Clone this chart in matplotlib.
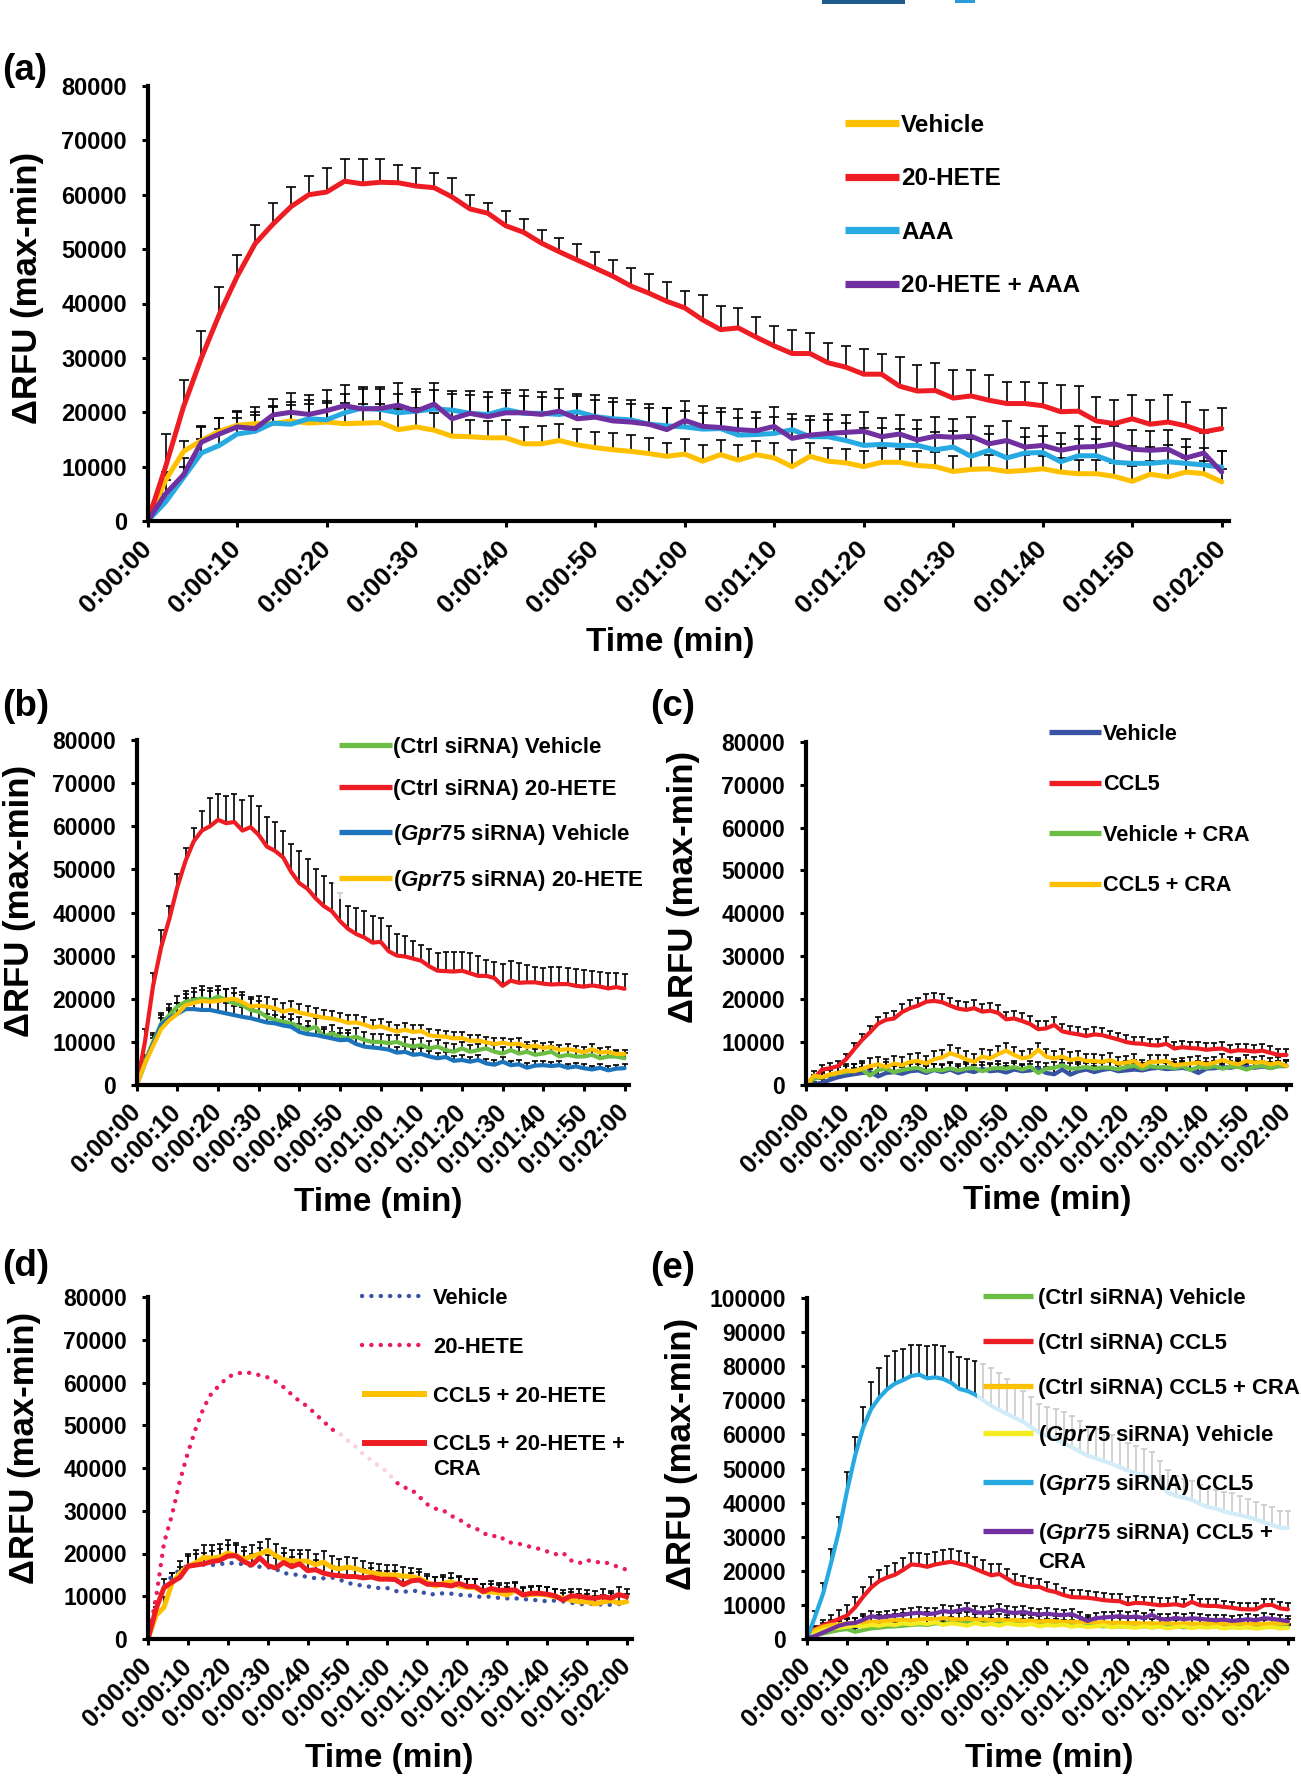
import numpy as np
import matplotlib
matplotlib.use("Agg")
import matplotlib.pyplot as plt
from matplotlib.patches import Rectangle

plt.rcParams["font.family"] = ["Liberation Sans", "DejaVu Sans"]
plt.rcParams["font.weight"] = "bold"
plt.rcParams["mathtext.fontset"] = "custom"
plt.rcParams["mathtext.it"] = "Liberation Sans:italic"
plt.rcParams["mathtext.rm"] = "Liberation Sans:bold"
plt.rcParams["mathtext.bf"] = "Liberation Sans:bold"

W, H, DPI = 1301, 1778, 100

GOLD = "#FFC000"
RED = "#EE1D23"
SKY = "#27AAE1"
PURPLE = "#7030A0"
GREEN = "#6DBE45"
BLUE = "#1C75BC"
NAVY = "#3953A4"
PINK = "#EC1C5B"
LEMON = "#F4EB20"

# ---- shared axes data -------------------------------------------------
TIME_S = [0, 2, 4, 6, 8, 10, 12, 14, 16, 18,
          20, 22, 24, 26, 28, 30, 32, 34, 36, 38,
          40, 42, 44, 46, 48, 50, 52, 54, 56, 58,
          60, 62, 64, 66, 68, 70, 72, 74, 76, 78,
          80, 82, 84, 86, 88, 90, 92, 94, 96, 98,
          100, 102, 104, 106, 108, 110, 112, 114, 116, 118,
          120]
X_TICK_SEC = [0, 10, 20, 30, 40, 50, 60, 70, 80, 90, 100, 110, 120]
X_TICK_LABELS = ["0:00:00", "0:00:10", "0:00:20", "0:00:30", "0:00:40", "0:00:50",
                 "0:01:00", "0:01:10", "0:01:20", "0:01:30", "0:01:40", "0:01:50",
                 "0:02:00"]
Y_TICKS_80K = [0, 10000, 20000, 30000, 40000, 50000, 60000, 70000, 80000]
Y_TICKS_100K = [0, 10000, 20000, 30000, 40000, 50000, 60000, 70000, 80000, 90000, 100000]

# ---- panel (a), values in thousands of RFU ---------------------------
A_VEH = [0, 7.5, 12.8, 14.8, 16.5, 17.6, 17.9, 17.9, 18.4, 18.0,
         18.2, 17.9, 18.0, 18.1, 16.8, 17.3, 16.7, 15.6, 15.5, 15.3,
         15.3, 14.2, 14.2, 14.8, 14.0, 13.5, 13.1, 12.8, 12.4, 11.9,
         12.3, 11.0, 12.2, 11.2, 12.2, 11.6, 10.0, 11.9, 11.0, 10.7,
         10.0, 10.8, 10.8, 10.2, 10.0, 9.1, 9.5, 9.6, 9.1, 9.3,
         9.6, 9.0, 8.7, 8.7, 8.2, 7.3, 8.6, 8.1, 9.0, 8.7,
         7.2]
A_VEH_ERR = [0, 1.5, 2.0, 2.5, 2.5, 2.5, 3.0, 3.0, 3.5, 3.5,
             3.5, 3.8, 3.5, 3.5, 3.8, 3.5, 3.2, 3.5, 3.0, 3.0,
             3.2, 3.0, 3.3, 3.0, 3.0, 2.8, 3.0, 3.0, 2.8, 2.5,
             2.8, 3.0, 2.7, 2.7, 2.5, 2.8, 3.0, 2.5, 2.5, 2.6,
             2.8, 2.6, 2.5, 2.6, 2.6, 2.8, 2.5, 2.5, 2.6, 2.8,
             2.4, 2.6, 2.5, 2.6, 2.5, 2.8, 2.5, 2.6, 2.5, 2.4,
             2.4]
A_HETE = [0, 10.0, 21.0, 30.0, 38.0, 45.0, 51.0, 54.6, 57.8, 60.0,
          60.5, 62.5, 62.0, 62.3, 62.2, 61.6, 61.3, 59.6, 57.4, 56.6,
          54.3, 53.1, 51.1, 49.5, 48.0, 46.5, 45.0, 43.2, 41.9, 40.4,
          39.2, 37.0, 35.2, 35.5, 33.8, 32.2, 30.8, 30.8, 29.1, 28.3,
          27.0, 27.0, 24.8, 23.9, 24.0, 22.6, 23.0, 22.2, 21.6, 21.6,
          21.2, 20.1, 20.2, 18.4, 17.9, 18.8, 17.8, 18.2, 17.5, 16.4,
          17.0]
A_HETE_ERR = [0, 6.0, 5.0, 5.0, 5.0, 4.0, 3.5, 3.9, 3.7, 3.5,
              4.5, 4.0, 4.5, 4.2, 3.3, 3.4, 2.7, 3.4, 2.6, 1.9,
              2.7, 2.4, 2.4, 2.5, 3.0, 3.0, 3.0, 3.3, 3.6, 3.6,
              3.1, 4.5, 4.3, 3.7, 3.7, 3.6, 4.3, 3.7, 3.7, 3.9,
              4.7, 3.8, 5.4, 4.7, 5.0, 5.2, 4.7, 4.6, 4.0, 4.0,
              4.1, 4.9, 4.6, 4.4, 4.4, 4.3, 4.4, 4.9, 4.4, 4.0,
              3.8]
A_AAA = [0, 3.5, 8.0, 12.5, 13.9, 16.0, 16.5, 18.0, 17.8, 18.8,
         18.6, 19.9, 20.8, 20.5, 19.9, 20.2, 20.6, 20.4, 19.8, 19.6,
         20.5, 19.8, 19.8, 19.6, 20.1, 19.2, 18.8, 18.6, 17.8, 17.5,
         17.3, 16.9, 17.0, 15.8, 15.9, 16.1, 16.8, 15.5, 15.5, 14.8,
         13.9, 14.1, 13.9, 13.9, 13.1, 13.6, 11.9, 13.0, 11.6, 12.5,
         12.6, 10.9, 12.0, 12.0, 10.8, 10.6, 10.6, 10.9, 10.6, 10.3,
         9.9]
A_AAA_ERR = [0, 1.5, 2.0, 2.5, 3.0, 3.0, 3.0, 3.2, 3.5, 3.5,
             3.5, 3.5, 3.5, 3.8, 3.5, 3.5, 3.5, 3.5, 3.3, 3.2,
             3.0, 3.2, 3.0, 3.0, 2.8, 3.0, 3.0, 3.0, 3.0, 3.2,
             3.0, 3.0, 3.0, 3.2, 3.0, 3.0, 2.8, 3.0, 3.0, 3.2,
             3.2, 3.0, 3.0, 3.0, 3.2, 3.0, 3.2, 3.0, 3.2, 3.0,
             3.0, 3.2, 3.0, 3.0, 3.2, 3.2, 3.0, 3.0, 3.0, 3.2,
             3.0]
A_COMBO = [0, 5.0, 8.5, 14.5, 16.0, 17.3, 17.0, 19.5, 20.0, 19.6,
           20.3, 21.2, 20.6, 20.7, 21.3, 20.2, 21.5, 18.8, 19.8, 19.2,
           19.9, 19.9, 19.6, 20.2, 18.8, 19.1, 18.4, 18.2, 17.8, 16.8,
           18.5, 17.4, 17.2, 16.8, 16.6, 17.4, 15.2, 15.8, 16.1, 16.3,
           16.5, 15.5, 16.0, 14.9, 15.6, 15.4, 15.6, 14.2, 14.8, 13.6,
           13.9, 13.0, 13.6, 13.7, 14.2, 13.2, 13.0, 13.2, 11.6, 12.5,
           9.0]
A_COMBO_ERR = [0, 2.5, 3.0, 3.0, 3.0, 3.0, 3.0, 3.0, 3.5, 3.5,
               3.8, 3.8, 4.0, 4.0, 4.0, 4.0, 3.8, 4.5, 4.2, 4.5,
               4.2, 4.2, 4.2, 4.0, 4.5, 4.0, 4.2, 4.0, 3.8, 4.0,
               3.5, 3.8, 3.6, 3.8, 3.5, 3.6, 3.6, 3.5, 3.6, 3.2,
               3.6, 3.5, 3.5, 3.6, 3.5, 3.4, 3.5, 3.2, 3.6, 3.5,
               3.6, 3.2, 3.8, 3.5, 3.2, 3.5, 3.5, 3.6, 3.5, 3.6,
               3.8]

# ---- panel (b) ---------------------------------------------------------
B_CTRL_VEH = [0, 5.5, 10.0, 14.3, 16.2, 18.2, 19.3, 19.7, 20.1, 19.7,
              20.5, 19.7, 18.9, 18.5, 17.4, 17.0, 15.8, 15.1, 14.7, 14.3,
              13.5, 12.8, 13.5, 11.2, 12.0, 11.2, 10.8, 11.2, 10.4, 10.0,
              10.0, 9.7, 10.0, 9.3, 8.9, 9.3, 8.5, 8.9, 8.1, 7.7,
              8.5, 7.7, 8.1, 8.5, 7.7, 7.3, 8.1, 7.3, 7.7, 7.0,
              7.3, 7.7, 6.6, 7.0, 6.6, 6.6, 7.0, 6.2, 6.6, 6.6,
              6.2]
B_CTRL_VEH_ERR = [0, 1.5, 2.0, 2.5, 2.5, 2.5, 2.5, 2.8, 2.8, 2.8,
                  2.5, 2.6, 2.5, 2.4, 2.5, 2.4, 2.3, 2.4, 2.2, 2.2,
                  2.2, 2.1, 2.0, 2.2, 2.0, 2.0, 1.9, 2.0, 1.9, 1.8,
                  1.8, 1.8, 1.7, 1.8, 1.7, 1.6, 1.7, 1.6, 1.6, 1.7,
                  1.5, 1.6, 1.5, 1.5, 1.6, 1.5, 1.4, 1.5, 1.5, 1.4,
                  1.4, 1.3, 1.5, 1.4, 1.4, 1.3, 1.4, 1.4, 1.3, 1.3,
                  1.3]
B_CTRL_HETE = [0, 10.0, 23.0, 32.0, 38.5, 46.0, 52.0, 56.5, 59.0, 60.0,
               61.5, 60.7, 61.0, 59.0, 59.8, 58.0, 55.3, 54.3, 52.8, 49.4,
               46.8, 45.5, 43.3, 41.5, 40.3, 38.0, 36.2, 35.0, 34.2, 33.0,
               33.2, 31.0, 30.0, 29.8, 29.3, 28.8, 27.5, 26.5, 26.4, 26.3,
               26.5, 25.9, 25.3, 25.3, 24.8, 23.0, 24.2, 23.7, 23.8, 23.8,
               23.5, 23.3, 23.4, 23.4, 23.0, 22.8, 23.1, 22.8, 22.4, 22.7,
               22.3]
B_CTRL_HETE_ERR = [0, 3.0, 3.0, 4.0, 3.0, 3.0, 3.0, 3.0, 4.5, 6.5,
                   6.0, 6.3, 6.5, 7.0, 7.2, 6.7, 6.8, 6.7, 6.2, 6.6,
                   7.5, 7.0, 6.7, 7.0, 6.5, 6.5, 5.3, 6.0, 6.2, 6.2,
                   5.5, 5.8, 5.0, 4.7, 4.2, 3.7, 4.0, 4.0, 4.4, 4.6,
                   4.3, 4.6, 4.5, 3.7, 3.7, 5.0, 4.6, 4.6, 4.0, 3.5,
                   3.6, 4.0, 3.9, 3.7, 3.8, 3.8, 3.3, 3.4, 3.6, 3.2,
                   3.4]
B_GPR_VEH = [0, 5.0, 9.5, 14.0, 15.5, 16.5, 17.6, 17.6, 17.4, 17.4,
             17.0, 16.6, 16.2, 15.8, 15.5, 15.0, 14.5, 14.3, 13.8, 13.5,
             12.3, 11.8, 11.6, 11.2, 10.8, 10.4, 10.5, 9.5, 8.9, 8.7,
             8.5, 8.2, 7.5, 7.7, 7.0, 7.2, 6.6, 6.2, 6.5, 5.6,
             5.8, 5.4, 5.8, 5.0, 4.7, 5.4, 4.6, 4.8, 4.0, 4.5,
             4.6, 4.4, 4.6, 4.0, 4.3, 3.9, 3.6, 4.0, 3.4, 3.8,
             3.9]
B_GPR_VEH_ERR = [0, 1.5, 2.0, 2.2, 2.4, 2.5, 2.5, 2.5, 2.4, 2.4,
                 2.3, 2.3, 2.2, 2.2, 2.1, 2.0, 2.0, 2.0, 1.9, 1.9,
                 1.8, 1.8, 1.7, 1.7, 1.6, 1.6, 1.6, 1.5, 1.5, 1.5,
                 1.4, 1.4, 1.4, 1.3, 1.3, 1.3, 1.2, 1.2, 1.2, 1.2,
                 1.1, 1.1, 1.1, 1.1, 1.0, 1.0, 1.0, 1.0, 1.0, 1.0,
                 1.0, 0.9, 0.9, 0.9, 0.9, 0.9, 0.9, 0.9, 0.9, 0.9,
                 0.9]
B_GPR_HETE = [0, 5.0, 9.0, 13.0, 15.0, 16.5, 18.5, 19.0, 19.5, 19.3,
              19.5, 19.8, 20.0, 19.2, 18.2, 18.4, 18.2, 17.8, 17.0, 17.5,
              16.8, 16.4, 16.0, 15.6, 15.4, 15.0, 14.4, 14.5, 14.0, 13.3,
              13.6, 13.0, 12.4, 12.8, 12.3, 12.5, 11.5, 11.3, 11.2, 10.8,
              10.9, 10.2, 10.3, 9.9, 9.5, 9.8, 9.4, 9.6, 8.8, 9.1,
              8.6, 8.8, 8.1, 8.3, 8.0, 7.6, 8.3, 7.5, 7.7, 7.2,
              7.2]
B_GPR_HETE_ERR = [0, 1.5, 2.0, 2.5, 2.5, 2.5, 2.6, 2.6, 2.5, 2.5,
                  2.5, 2.4, 2.4, 2.3, 2.3, 2.2, 2.2, 2.1, 2.1, 2.0,
                  2.0, 2.0, 1.9, 1.9, 1.8, 1.8, 1.8, 1.7, 1.7, 1.7,
                  1.6, 1.6, 1.6, 1.5, 1.5, 1.5, 1.5, 1.4, 1.4, 1.4,
                  1.4, 1.3, 1.3, 1.3, 1.3, 1.2, 1.2, 1.2, 1.2, 1.2,
                  1.2, 1.1, 1.1, 1.1, 1.1, 1.1, 1.1, 1.1, 1.0, 1.0,
                  1.0]

# ---- panel (c) ---------------------------------------------------------
C_VEH = [0, 0.2, 0.5, 1.2, 1.8, 2.2, 2.5, 2.8, 3.0, 2.0,
         2.8, 3.0, 2.6, 3.2, 3.4, 2.8, 3.5, 3.0, 3.6, 2.8,
         3.4, 3.0, 3.8, 3.2, 3.4, 2.9, 3.6, 3.2, 3.4, 3.8,
         2.8, 2.5, 3.6, 2.4, 3.2, 3.6, 3.0, 3.5, 3.8, 3.2,
         3.4, 3.6, 3.4, 3.8, 4.0, 3.7, 3.8, 4.0, 3.6, 2.8,
         3.8, 3.9, 4.2, 4.0, 4.4, 4.2, 4.0, 4.3, 4.0, 4.4,
         4.4]
C_VEH_ERR = [0, 0.5, 0.8, 1.0, 1.2, 1.3, 1.4, 1.5, 1.5, 1.5,
             1.6, 1.5, 1.6, 1.6, 1.5, 1.6, 1.5, 1.6, 1.5, 1.6,
             1.5, 1.6, 1.5, 1.6, 1.5, 1.6, 1.5, 1.5, 1.6, 1.5,
             1.5, 1.6, 1.5, 1.5, 1.6, 1.5, 1.5, 1.6, 1.5, 1.5,
             1.4, 1.5, 1.4, 1.5, 1.4, 1.4, 1.5, 1.4, 1.4, 1.4,
             1.4, 1.3, 1.4, 1.3, 1.4, 1.3, 1.3, 1.4, 1.3, 1.3,
             1.3]
C_CCL5 = [0, 1.5, 3.6, 3.9, 4.4, 6.0, 8.3, 10.5, 12.3, 14.3,
          15.2, 15.5, 17.0, 17.9, 18.5, 19.4, 19.6, 19.3, 18.5, 17.8,
          17.5, 17.9, 17.1, 17.3, 16.8, 15.3, 15.5, 14.9, 14.2, 13.0,
          13.2, 14.0, 12.5, 12.1, 11.8, 11.4, 11.8, 11.6, 11.1, 10.6,
          10.0, 9.7, 9.6, 9.3, 9.2, 9.6, 8.5, 8.8, 8.6, 8.5,
          8.2, 8.4, 8.5, 7.8, 8.1, 8.0, 7.8, 8.0, 7.5, 7.0,
          7.0]
C_CCL5_ERR = [0, 0.8, 1.0, 1.2, 1.2, 1.3, 1.5, 1.5, 1.5, 1.6,
              1.6, 1.7, 1.8, 1.8, 1.8, 1.8, 1.8, 1.9, 1.8, 1.8,
              1.8, 1.8, 1.8, 1.8, 1.8, 1.8, 1.8, 1.8, 1.8, 1.8,
              1.8, 1.8, 1.7, 1.7, 1.7, 1.7, 1.7, 1.7, 1.6, 1.6,
              1.6, 1.6, 1.6, 1.5, 1.5, 1.6, 1.5, 1.5, 1.5, 1.5,
              1.5, 1.5, 1.5, 1.5, 1.5, 1.5, 1.5, 1.5, 1.5, 1.5,
              1.5]
C_VEH_CRA = [0, 1.5, 1.8, 2.3, 2.8, 3.0, 3.4, 3.6, 2.2, 3.5,
             3.8, 3.0, 3.5, 3.8, 4.0, 3.2, 3.6, 3.4, 3.9, 3.4,
             3.8, 4.0, 3.2, 3.8, 4.0, 3.8, 4.2, 3.6, 4.3, 2.8,
             3.8, 4.0, 4.6, 3.8, 3.9, 4.2, 3.8, 4.1, 4.0, 3.7,
             4.2, 4.5, 3.8, 4.4, 4.1, 4.2, 3.9, 4.4, 3.5, 4.2,
             4.0, 4.4, 3.8, 4.3, 4.2, 3.6, 4.2, 4.5, 3.9, 4.4,
             4.6]
C_VEH_CRA_ERR = [0, 0.8, 1.0, 1.2, 1.3, 1.4, 1.4, 1.5, 1.5, 1.5,
                 1.5, 1.4, 1.5, 1.5, 1.4, 1.5, 1.4, 1.5, 1.5, 1.4,
                 1.5, 1.4, 1.5, 1.4, 1.5, 1.4, 1.5, 1.4, 1.4, 1.5,
                 1.4, 1.4, 1.5, 1.4, 1.4, 1.3, 1.4, 1.4, 1.3, 1.4,
                 1.3, 1.4, 1.3, 1.3, 1.4, 1.3, 1.3, 1.3, 1.4, 1.3,
                 1.3, 1.3, 1.2, 1.3, 1.3, 1.2, 1.3, 1.2, 1.3, 1.2,
                 1.2]
C_CCL5_CRA = [0, 2.2, 1.8, 2.5, 2.8, 3.4, 3.2, 3.8, 4.4, 4.8,
              4.2, 5.0, 4.6, 5.4, 5.6, 5.0, 6.0, 6.4, 7.4, 6.8,
              6.0, 5.4, 6.6, 6.2, 7.2, 8.0, 7.0, 6.2, 6.6, 8.2,
              6.6, 6.2, 6.6, 5.8, 6.2, 5.6, 5.6, 5.4, 5.8, 5.0,
              5.2, 5.6, 4.4, 5.4, 5.4, 5.6, 4.6, 4.8, 5.0, 5.2,
              4.8, 5.2, 5.8, 5.2, 4.8, 5.6, 5.2, 5.4, 4.8, 5.2,
              4.4]
C_CCL5_CRA_ERR = [0, 1.0, 1.2, 1.4, 1.5, 1.6, 1.6, 1.7, 1.8, 1.8,
                  1.8, 1.8, 1.9, 1.8, 1.9, 1.8, 1.9, 1.8, 1.9, 1.8,
                  1.9, 1.8, 1.8, 1.9, 1.8, 1.8, 1.9, 1.8, 1.8, 1.7,
                  1.8, 1.7, 1.7, 1.8, 1.7, 1.7, 1.6, 1.7, 1.6, 1.6,
                  1.6, 1.6, 1.5, 1.6, 1.5, 1.5, 1.5, 1.5, 1.5, 1.5,
                  1.5, 1.4, 1.5, 1.4, 1.5, 1.4, 1.4, 1.4, 1.4, 1.4,
                  1.4]

# ---- panel (d) ---------------------------------------------------------
D_VEH = [0, 7.5, 12.3, 14.7, 16.2, 17.2, 17.5, 17.4, 17.3, 17.5,
         17.8, 17.7, 17.5, 17.1, 16.9, 16.8, 16.4, 15.4, 15.2, 14.9,
         14.5, 14.2, 14.2, 14.4, 13.9, 13.1, 12.8, 12.4, 12.2, 11.9,
         11.9, 11.2, 11.1, 11.1, 11.4, 10.4, 10.5, 10.7, 10.6, 10.3,
         10.3, 9.9, 9.9, 9.9, 9.6, 9.5, 9.5, 9.4, 9.1, 9.1,
         8.8, 9.0, 8.8, 8.5, 8.2, 8.1, 8.3, 8.0, 8.0, 8.2,
         7.2]
D_HETE = [0, 9.5, 22.4, 29.0, 37.0, 43.6, 49.3, 54.2, 57.6, 59.4,
          61.3, 62.0, 62.4, 62.2, 61.7, 61.2, 60.2, 58.9, 57.2, 55.6,
          54.4, 52.6, 50.9, 49.1, 48.1, 46.5, 45.0, 43.2, 41.8, 40.4,
          39.1, 36.8, 35.5, 35.0, 33.3, 31.5, 30.5, 30.1, 28.8, 28.0,
          26.6, 26.0, 24.8, 24.0, 24.2, 22.7, 22.4, 22.1, 21.5, 21.1,
          20.5, 19.8, 20.2, 18.4, 17.7, 18.5, 17.9, 18.1, 17.5, 16.8,
          16.2]
D_CCL5_HETE = [0, 5.5, 7.4, 13.0, 15.4, 17.0, 17.8, 19.1, 18.9, 19.2,
               20.1, 19.5, 18.7, 19.3, 19.9, 20.7, 19.5, 18.6, 18.3, 18.2,
               18.2, 17.4, 18.0, 16.8, 16.4, 16.8, 16.5, 15.9, 15.5, 15.2,
               15.0, 15.0, 14.7, 14.6, 14.2, 13.2, 12.4, 13.0, 13.4, 12.4,
               12.1, 12.0, 11.0, 11.0, 10.8, 10.3, 11.4, 10.3, 10.4, 10.5,
               10.3, 9.9, 9.6, 9.1, 8.7, 8.7, 8.2, 8.6, 9.0, 8.4,
               8.7]
D_CCL5_HETE_ERR = [0, 2.0, 2.5, 2.5, 2.8, 2.8, 3.0, 3.0, 3.0, 3.0,
                   3.0, 3.0, 2.9, 2.8, 2.8, 2.8, 2.7, 2.7, 2.6, 2.6,
                   2.6, 2.5, 2.5, 2.5, 2.4, 2.4, 2.4, 2.3, 2.3, 2.3,
                   2.2, 2.2, 2.2, 2.1, 2.1, 2.1, 2.1, 2.0, 2.0, 2.0,
                   2.0, 2.0, 1.9, 1.9, 1.9, 1.9, 1.9, 1.8, 1.8, 1.8,
                   1.8, 1.8, 1.8, 1.8, 1.8, 1.8, 1.8, 1.8, 1.8, 1.8,
                   1.8]
D_CRA = [0, 7.0, 12.0, 13.3, 14.4, 17.0, 17.3, 17.6, 18.1, 18.4,
         19.4, 19.5, 18.1, 17.3, 19.0, 17.2, 16.6, 17.9, 16.9, 17.6,
         16.0, 16.2, 15.4, 15.0, 14.8, 14.6, 14.6, 14.3, 14.5, 14.0,
         14.0, 13.9, 12.7, 13.6, 13.8, 12.8, 12.8, 12.7, 12.4, 13.0,
         12.3, 12.3, 11.1, 11.8, 11.4, 11.4, 11.5, 10.3, 10.7, 10.7,
         10.5, 10.1, 9.1, 10.1, 10.0, 9.7, 9.5, 9.9, 9.6, 10.4,
         9.9]
D_CRA_ERR = [0, 1.5, 2.0, 2.2, 2.4, 2.5, 2.5, 2.6, 2.6, 2.6,
             2.6, 2.5, 2.5, 2.5, 2.4, 2.4, 2.4, 2.3, 2.3, 2.3,
             2.2, 2.2, 2.2, 2.1, 2.1, 2.1, 2.0, 2.0, 2.0, 2.0,
             2.0, 1.9, 1.9, 1.9, 1.9, 1.9, 1.8, 1.8, 1.8, 1.8,
             1.8, 1.8, 1.8, 1.7, 1.7, 1.7, 1.7, 1.7, 1.7, 1.7,
             1.7, 1.7, 1.7, 1.7, 1.7, 1.7, 1.7, 1.7, 1.7, 1.7,
             1.7]

# ---- panel (e) ---------------------------------------------------------
E_CTRL_VEH = [0, 1.0, 1.5, 2.0, 2.5, 2.8, 2.0, 2.5, 3.0, 3.2,
              3.5, 3.6, 3.8, 4.0, 4.2, 4.0, 4.5, 4.3, 4.8, 4.4,
              5.0, 4.6, 4.4, 4.8, 4.5, 4.7, 4.3, 4.5, 4.8, 4.2,
              4.5, 4.6, 4.4, 4.2, 4.0, 4.3, 3.8, 3.6, 3.8, 3.5,
              3.7, 3.5, 3.6, 3.3, 3.5, 3.4, 3.6, 3.3, 3.5, 3.4,
              3.6, 3.5, 3.2, 3.4, 3.6, 3.3, 3.5, 3.4, 3.6, 3.5,
              3.4]
E_CTRL_VEH_ERR = [0, 0.6, 0.8, 1.0, 1.0, 1.2, 1.2, 1.2, 1.3, 1.3,
                  1.3, 1.4, 1.4, 1.4, 1.5, 1.4, 1.5, 1.4, 1.5, 1.4,
                  1.4, 1.4, 1.3, 1.4, 1.3, 1.4, 1.3, 1.3, 1.4, 1.3,
                  1.3, 1.3, 1.2, 1.3, 1.2, 1.2, 1.2, 1.2, 1.1, 1.2,
                  1.1, 1.1, 1.1, 1.1, 1.1, 1.0, 1.1, 1.0, 1.0, 1.0,
                  1.0, 1.0, 1.0, 1.0, 1.0, 1.0, 1.0, 1.0, 1.0, 1.0,
                  1.0]
E_CTRL_CCL5 = [0, 2.8, 3.9, 4.8, 5.8, 6.8, 9.2, 12.3, 15.0, 16.9,
               18.0, 18.8, 20.2, 21.8, 21.6, 21.1, 21.8, 22.2, 22.6, 22.0,
               21.5, 20.5, 19.5, 18.6, 19.0, 17.6, 16.2, 15.7, 15.2, 15.2,
               14.2, 13.7, 12.8, 12.2, 12.1, 12.0, 11.7, 11.3, 11.1, 11.0,
               10.1, 10.5, 10.4, 10.1, 9.8, 9.9, 10.1, 9.6, 10.8, 9.8,
               9.6, 9.6, 9.3, 9.1, 8.7, 8.6, 8.6, 9.8, 9.9, 8.9,
               8.6]
E_CTRL_CCL5_ERR = [0, 1.0, 1.5, 2.0, 2.5, 3.0, 3.0, 3.0, 3.0, 3.2,
                   3.2, 3.4, 3.5, 3.5, 3.6, 3.8, 3.8, 3.8, 3.6, 3.7,
                   3.6, 3.5, 3.5, 3.2, 3.0, 3.0, 2.8, 2.6, 2.5, 2.4,
                   2.4, 2.3, 2.2, 2.2, 2.2, 2.0, 2.0, 2.0, 2.1, 2.0,
                   2.0, 2.0, 1.9, 2.0, 2.0, 1.9, 2.0, 1.9, 1.9, 1.8,
                   1.9, 1.9, 1.8, 1.8, 1.9, 1.8, 1.8, 1.8, 1.8, 1.8,
                   1.8]
E_CTRL_CRA = [0, 2.5, 3.5, 4.0, 4.2, 4.5, 4.6, 4.8, 4.9, 5.0,
              5.2, 5.4, 5.5, 5.3, 5.6, 5.8, 5.7, 6.0, 5.8, 5.6,
              5.9, 5.5, 5.7, 5.4, 5.6, 5.3, 5.5, 5.2, 5.3, 5.0,
              5.2, 5.1, 4.9, 5.0, 4.8, 4.9, 4.7, 4.8, 4.6, 4.7,
              4.5, 4.6, 4.4, 4.5, 4.4, 4.6, 4.3, 4.5, 4.4, 4.3,
              4.5, 4.2, 4.4, 4.3, 4.5, 4.2, 4.4, 4.3, 4.5, 4.4,
              4.6]
E_CTRL_CRA_ERR = [0, 1.0, 1.2, 1.4, 1.5, 1.6, 1.6, 1.7, 1.7, 1.8,
                  1.8, 1.8, 1.9, 1.8, 1.9, 1.9, 1.8, 1.9, 1.8, 1.8,
                  1.8, 1.8, 1.7, 1.8, 1.7, 1.7, 1.7, 1.6, 1.7, 1.6,
                  1.6, 1.6, 1.6, 1.5, 1.6, 1.5, 1.5, 1.5, 1.5, 1.4,
                  1.5, 1.4, 1.4, 1.4, 1.4, 1.4, 1.3, 1.4, 1.3, 1.3,
                  1.3, 1.3, 1.3, 1.3, 1.3, 1.3, 1.2, 1.3, 1.2, 1.2,
                  1.2]
E_GPR_VEH = [0, 1.5, 2.5, 3.0, 3.2, 3.5, 3.8, 3.6, 4.0, 3.8,
             4.2, 4.0, 4.5, 4.2, 4.6, 4.3, 4.8, 4.0, 4.5, 4.2,
             3.8, 4.6, 4.0, 4.3, 3.8, 4.5, 4.1, 3.9, 4.3, 3.6,
             4.0, 3.8, 4.1, 3.5, 3.8, 3.4, 3.6, 3.9, 3.3, 3.6,
             3.4, 3.2, 3.6, 3.3, 3.5, 3.0, 3.4, 3.6, 3.1, 3.4,
             3.2, 3.5, 3.0, 3.3, 3.1, 3.4, 2.9, 3.2, 3.4, 3.0,
             3.1]
E_GPR_VEH_ERR = [0, 0.5, 0.7, 0.8, 0.9, 1.0, 1.0, 1.1, 1.1, 1.1,
                 1.1, 1.2, 1.1, 1.2, 1.1, 1.2, 1.1, 1.2, 1.1, 1.1,
                 1.1, 1.1, 1.0, 1.1, 1.0, 1.1, 1.0, 1.0, 1.0, 1.0,
                 1.0, 1.0, 1.0, 0.9, 1.0, 0.9, 0.9, 0.9, 0.9, 0.9,
                 0.9, 0.9, 0.9, 0.9, 0.8, 0.9, 0.8, 0.8, 0.8, 0.8,
                 0.8, 0.8, 0.8, 0.8, 0.8, 0.8, 0.8, 0.8, 0.8, 0.8,
                 0.8]
E_GPR_CCL5 = [0, 6.5, 13.2, 22.2, 31.8, 43.5, 53.8, 62.0, 67.5, 70.8,
              73.3, 75.0, 76.0, 77.2, 77.6, 76.5, 76.8, 76.3, 75.2, 73.4,
              72.8, 71.7, 70.0, 68.4, 67.2, 66.0, 64.8, 63.7, 62.0, 60.5,
              59.6, 58.6, 57.4, 56.3, 55.0, 53.8, 53.0, 52.2, 51.4, 50.4,
              49.4, 48.7, 48.0, 47.3, 45.5, 43.0, 42.0, 41.4, 40.8, 39.6,
              38.7, 38.2, 37.4, 36.8, 36.3, 35.7, 35.1, 34.2, 33.4, 32.6,
              32.5]
E_GPR_CCL5_ERR = [0, 1.5, 3.0, 4.0, 4.0, 5.5, 5.5, 6.0, 8.0, 8.8,
                  9.8, 9.5, 9.2, 9.0, 8.6, 9.6, 9.6, 9.8, 9.0, 9.3,
                  9.3, 10.0, 10.8, 11.2, 11.0, 10.2, 9.8, 9.2, 9.0, 8.6,
                  8.6, 8.8, 9.1, 9.0, 9.0, 8.8, 8.6, 8.5, 8.5, 8.4,
                  8.2, 8.0, 7.8, 7.6, 6.8, 6.5, 5.8, 5.5, 5.5, 5.5,
                  5.4, 5.5, 5.8, 6.0, 5.6, 5.2, 5.0, 5.0, 5.2, 5.0,
                  5.0]
E_GPR_CRA = [0, 0.8, 1.8, 2.8, 3.8, 4.4, 4.6, 5.5, 6.6, 6.2,
             6.5, 6.8, 7.0, 7.4, 7.6, 7.2, 7.4, 8.1, 7.8, 8.3,
             8.8, 7.8, 7.5, 7.9, 8.5, 7.8, 7.5, 7.9, 7.3, 7.1,
             7.3, 7.0, 6.9, 7.2, 6.2, 5.2, 6.0, 6.2, 6.4, 6.6,
             6.2, 6.5, 6.0, 7.0, 5.8, 5.6, 6.1, 5.7, 6.0, 5.8,
             5.6, 5.4, 5.6, 5.2, 5.4, 5.7, 5.4, 6.0, 5.8, 5.5,
             5.1]
E_GPR_CRA_ERR = [0, 0.8, 1.0, 1.2, 1.4, 1.5, 1.5, 1.6, 1.6, 1.7,
                 1.7, 1.7, 1.8, 1.7, 1.8, 1.8, 1.7, 1.8, 1.8, 1.7,
                 1.8, 1.7, 1.7, 1.8, 1.7, 1.7, 1.7, 1.6, 1.7, 1.6,
                 1.6, 1.6, 1.6, 1.5, 1.6, 1.6, 1.5, 1.5, 1.5, 1.5,
                 1.5, 1.5, 1.4, 1.5, 1.4, 1.5, 1.4, 1.4, 1.4, 1.4,
                 1.4, 1.4, 1.4, 1.4, 1.4, 1.4, 1.4, 1.4, 1.4, 1.4,
                 1.4]

GPR = r"$\mathit{Gpr75}$"

# series: (values, err, color, label, dotted)
PANELS = [
    dict(letter="(a)", letter_xy=(25, 70),
         box=(147.7, 1228.9, 86, 521), xmax=120.8, ymax=80000, yticks=Y_TICKS_80K,
         lw=3.6, xfs=19, yfs=17, cap_ms=6.5,
         ylabel_xy=(28, 288), xlabel_xy=(670, 643),
         series=[(A_VEH, A_VEH_ERR, GOLD, "Vehicle", False),
                 (A_HETE, A_HETE_ERR, RED, "20-HETE", False),
                 (A_AAA, A_AAA_ERR, SKY, "AAA", False),
                 (A_COMBO, A_COMBO_ERR, PURPLE, "20-HETE + AAA", False)],
         legend=dict(fs=17.5, hx=845, row1=123, gap=53.3, hlen=54, tgap=2, pad=6, hlw=5.2,
                     extra=None)),
    dict(letter="(b)", letter_xy=(26, 707),
         box=(136.8, 629.4, 740, 1085), xmax=121.2, ymax=80000, yticks=Y_TICKS_80K,
         lw=3.0, xfs=18, yfs=16.5, cap_ms=4.8,
         ylabel_xy=(20, 901), xlabel_xy=(378, 1202),
         series=[(B_CTRL_VEH, B_CTRL_VEH_ERR, GREEN, "(Ctrl siRNA) Vehicle", False),
                 (B_CTRL_HETE, B_CTRL_HETE_ERR, RED, "(Ctrl siRNA) 20-HETE", False),
                 (B_GPR_VEH, B_GPR_VEH_ERR, BLUE, "(" + GPR + " siRNA) Vehicle", False),
                 (B_GPR_HETE, B_GPR_HETE_ERR, GOLD, "(" + GPR + " siRNA) 20-HETE", False)],
         legend=dict(fs=16, hx=339, row1=745, gap=42.3, hlen=53, tgap=1, pad=6, hlw=3.8,
                     extra=None)),
    dict(letter="(c)", letter_xy=(673, 707),
         box=(806, 1291.3, 741.7, 1085), xmax=121.2, ymax=80000, yticks=Y_TICKS_80K,
         lw=3.0, xfs=18, yfs=16.5, cap_ms=4.8,
         ylabel_xy=(684, 887), xlabel_xy=(1047, 1200),
         series=[(C_VEH, C_VEH_ERR, NAVY, "Vehicle", False),
                 (C_CCL5, C_CCL5_ERR, RED, "CCL5", False),
                 (C_VEH_CRA, C_VEH_CRA_ERR, GREEN, "Vehicle + CRA", False),
                 (C_CCL5_CRA, C_CCL5_CRA_ERR, GOLD, "CCL5 + CRA", False)],
         legend=dict(fs=15.7, hx=1048.6, row1=731.7, gap=50, hlen=52, tgap=2.5, pad=6, hlw=3.8,
                     extra=None)),
    dict(letter="(d)", letter_xy=(26, 1267),
         box=(148, 631.5, 1297, 1639), xmax=121.2, ymax=80000, yticks=Y_TICKS_80K,
         lw=3.6, xfs=18, yfs=16.5, cap_ms=4.8,
         ylabel_xy=(25, 1448), xlabel_xy=(389, 1759),
         series=[(D_VEH, None, NAVY, "Vehicle", True),
                 (D_HETE, None, PINK, "20-HETE", True),
                 (D_CCL5_HETE, D_CCL5_HETE_ERR, GOLD, "CCL5 + 20-HETE", False),
                 (D_CRA, D_CRA_ERR, RED, "CCL5 + 20-HETE +", False)],
         legend=dict(fs=15.8, hx=362, row1=1296, gap=48.5, hlen=65, tgap=6, pad=26, hlw=4.3,
                     extra=("CRA", 25))),
    dict(letter="(e)", letter_xy=(673, 1268),
         box=(807, 1292.8, 1298.4, 1638.6), xmax=121.2, ymax=100000, yticks=Y_TICKS_100K,
         lw=3.0, xfs=18, yfs=16.5, cap_ms=4.8,
         ylabel_xy=(682, 1454), xlabel_xy=(1049, 1759),
         series=[(E_CTRL_VEH, E_CTRL_VEH_ERR, GREEN, "(Ctrl siRNA) Vehicle", False),
                 (E_CTRL_CCL5, E_CTRL_CCL5_ERR, RED, "(Ctrl siRNA) CCL5", False),
                 (E_CTRL_CRA, E_CTRL_CRA_ERR, GOLD, "(Ctrl siRNA) CCL5 + CRA", False),
                 (E_GPR_VEH, E_GPR_VEH_ERR, LEMON, "(" + GPR + " siRNA) Vehicle", False),
                 (E_GPR_CCL5, E_GPR_CCL5_ERR, SKY, "(" + GPR + " siRNA) CCL5", False),
                 (E_GPR_CRA, E_GPR_CRA_ERR, PURPLE, "(" + GPR + " siRNA) CCL5 +", False)],
         legend=dict(fs=15.9, hx=983, row1=1296, gap=44.8, hlen=50, tgap=5, pad=6, hlw=3.8,
                     extra=("CRA", 27))),
]


def fx(px):
    return px / W


def fy(py):
    return 1 - py / H


def draw_panel(fig, p):
    left, right, top, bottom = p["box"]
    ax = fig.add_axes([fx(left), fy(bottom), (right - left) / W, (bottom - top) / H])
    t_all = np.asarray(TIME_S, dtype=float)

    # error bars first so the thick lines sit on top of their bases
    for values, err, color, label, dotted in p["series"]:
        if err is None:
            continue
        n = min(len(t_all), len(values), len(err))
        t = t_all[:n]
        v = np.asarray(values[:n], dtype=float) * 1000
        e = np.asarray(err[:n], dtype=float) * 1000
        keep = e > 0
        ax.vlines(t[keep], v[keep], v[keep] + e[keep], colors="black",
                  linewidth=1.2, zorder=1.5)
        ax.plot(t[keep], v[keep] + e[keep], ls="none", marker="_", ms=p["cap_ms"],
                mew=1.2, color="black", zorder=1.5)

    handles, labels = [], []
    for values, err, color, label, dotted in p["series"]:
        n = min(len(t_all), len(values))
        v = np.asarray(values[:n], dtype=float) * 1000
        if dotted:
            ln, = ax.plot(t_all[:n], v, color=color, lw=3.2, ls=(0, (0.01, 2.1)),
                          dash_capstyle="round", zorder=2)
        else:
            ln, = ax.plot(t_all[:n], v, color=color, lw=p["lw"],
                          solid_joinstyle="round", solid_capstyle="round", zorder=2)
        handles.append(ln)
        labels.append(label)

    ax.set_xlim(0, p["xmax"])
    ax.set_ylim(0, p["ymax"])
    ax.set_xticks(X_TICK_SEC)
    ax.set_xticklabels(X_TICK_LABELS, rotation=45, ha="right", va="center",
                       rotation_mode="anchor", fontsize=p["xfs"], fontweight="bold")
    ax.set_yticks(p["yticks"])
    ax.set_yticklabels([str(v) for v in p["yticks"]], fontsize=p["yfs"], fontweight="bold")
    ax.tick_params(axis="both", direction="out", length=4.5, width=2.2, colors="black")
    ax.tick_params(axis="y", pad=10.5)
    ax.tick_params(axis="x", pad=12.5)
    for side in ("top", "right"):
        ax.spines[side].set_visible(False)
    for side in ("left", "bottom"):
        ax.spines[side].set_linewidth(3.0)
    ax.set_facecolor("none")

    ax.set_ylabel("ΔRFU (max-min)", fontsize=25, fontweight="bold")
    ax.yaxis.set_label_coords(fx(p["ylabel_xy"][0]), fy(p["ylabel_xy"][1]),
                              transform=fig.transFigure)
    ax.yaxis.label.set_va("center")
    ax.set_xlabel("Time (min)", fontsize=24, fontweight="bold")
    ax.xaxis.set_label_coords(fx(p["xlabel_xy"][0]), fy(p["xlabel_xy"][1]),
                              transform=fig.transFigure)
    ax.xaxis.label.set_va("center")

    fig.text(fx(p["letter_xy"][0]), fy(p["letter_xy"][1]), p["letter"],
             fontsize=26.5, fontweight="bold", ha="center", va="center")

    spec = p["legend"]
    fs_px = spec["fs"] * DPI / 72
    pad = spec["pad"]
    leg = ax.legend(handles, labels, loc="upper left",
                    bbox_to_anchor=(fx(spec["hx"] - pad), fy(spec["row1"] - 0.37 * fs_px - pad)),
                    bbox_transform=fig.transFigure,
                    prop={"size": spec["fs"], "weight": "bold"},
                    handlelength=spec["hlen"] / fs_px, handletextpad=spec["tgap"] / fs_px,
                    labelspacing=spec["gap"] / fs_px - 0.94, borderpad=pad / fs_px,
                    borderaxespad=0, frameon=True, fancybox=False, framealpha=0.8,
                    facecolor="white", edgecolor="none")
    for hl in leg.get_lines():
        if hl.get_linestyle() == "-":
            hl.set_linewidth(spec["hlw"])
            hl.set_solid_capstyle("butt")
    return ax, leg


fig = plt.figure(figsize=(W / DPI, H / DPI), dpi=DPI, facecolor="white")

# journal header remnants at the very top edge
fig.patches.append(Rectangle((fx(822), fy(4)), 83 / W, 4 / H, transform=fig.transFigure,
                             facecolor="#1F5A8C", edgecolor="none"))
fig.patches.append(Rectangle((fx(955), fy(3)), 20 / W, 3 / H, transform=fig.transFigure,
                             facecolor="#2A9BD6", edgecolor="none"))

legends = []
for panel in PANELS:
    ax, leg = draw_panel(fig, panel)
    legends.append((leg, panel["legend"]))

# second line of the wrapped legend labels
fig.canvas.draw()
for leg, spec in legends:
    if spec["extra"] is None:
        continue
    text, gap = spec["extra"]
    bb = leg.get_texts()[-1].get_window_extent()
    fig.text(bb.x0 / fig.bbox.width, (bb.y0 - gap) / fig.bbox.height, text,
             fontsize=spec["fs"], fontweight="bold", ha="left", va="bottom", zorder=10)

fig.savefig("out.png", dpi=DPI, facecolor="white")
